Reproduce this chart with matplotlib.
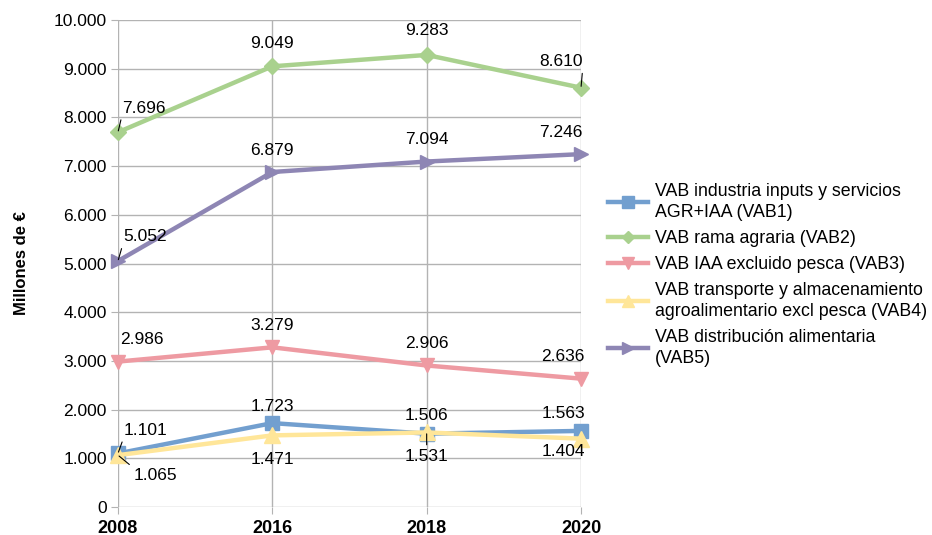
import matplotlib
matplotlib.use("Agg")
import matplotlib.pyplot as plt

plt.rcParams['font.family'] = ['Liberation Sans', 'DejaVu Sans']

years = ["2008", "2016", "2018", "2020"]
labels = [
    "VAB industria inputs y servicios\nAGR+IAA (VAB1)",
    "VAB rama agraria (VAB2)",
    "VAB IAA excluido pesca (VAB3)",
    "VAB transporte y almacenamiento\nagroalimentario excl pesca (VAB4)",
    "VAB distribución alimentaria\n(VAB5)",
]
vab1 = [1101, 1723, 1506, 1563]
vab2 = [7696, 9049, 9283, 8610]
vab3 = [2986, 3279, 2906, 2636]
vab4 = [1065, 1471, 1531, 1404]
vab5 = [5052, 6879, 7094, 7246]

series = [vab1, vab2, vab3, vab4, vab5]
colors = ["#729fcf", "#a9d18e", "#ee9aa2", "#ffe699", "#8e86b4"]
markers = ["s", "D", "v", "^", ">"]
msizes = [10, 8, 10, 11, 10]

# label offsets in pixels (dx, dy) and leader line anchor on the text (None = no line)
offsets = [
    [(28, 23, (0, 0.1)), (0, 17, None), (0, 18, None), (-18, 17, None)],
    [(26, 24, (0, 0.1)), (0, 23, None), (0, 24, None), (-20, 26, (1, 0.1))],
    [(24, 22, None), (0, 22, None), (0, 22, None), (-18, 22, None)],
    [(37, -20, (0, 1)), (0, -24, None), (0, -24, (0.5, 1)), (-18, -13, None)],
    [(27, 24, (0, 0.1)), (0, 22, None), (0, 22, None), (-20, 22, None)],
]

fig = plt.figure(figsize=(9.32, 5.35), dpi=100)
ax = fig.add_axes([0.1266, 0.0523, 0.4968, 0.9103])

x = list(range(len(years)))
for vals, lab, c, m, ms, offs in zip(series, labels, colors, markers, msizes, offsets):
    ax.plot(x, vals, color=c, lw=3.2, marker=m, ms=ms, label=lab, clip_on=False, zorder=3)
    for xi, v, (dx, dy, rel) in zip(x, vals, offs):
        txt = f"{v:,}".replace(",", ".")
        if rel is not None:
            ax.annotate(txt, (xi, v), xytext=(dx, dy), textcoords="offset pixels",
                        ha="center", va="center", fontsize=12.5, zorder=5,
                        arrowprops=dict(arrowstyle="-", color="black", lw=0.8,
                                        relpos=rel, shrinkA=1, shrinkB=1))
        else:
            ax.annotate(txt, (xi, v), xytext=(dx, dy), textcoords="offset pixels",
                        ha="center", va="center", fontsize=12.5, zorder=5)

ax.set_xlim(0, len(years) - 1)
ax.set_ylim(0, 10000)
ax.set_yticks(range(0, 10001, 1000))
ax.set_yticklabels([f"{t:,}".replace(",", ".") for t in range(0, 10001, 1000)], fontsize=12.5)
ax.set_xticks(x)
ax.set_xticklabels(years, fontsize=13, fontweight="bold")
ax.grid(True, color="#b3b3b3", lw=1)
ax.set_axisbelow(True)
for s in ax.spines.values():
    s.set_visible(False)
ax.tick_params(axis="both", color="#b3b3b3", length=5, pad=3)
ax.tick_params(axis="x", pad=4)
ax.set_ylabel("Millones de €", fontsize=12, fontweight="bold", labelpad=18)

leg = fig.legend(loc="upper left", bbox_to_anchor=(0.645, 0.672), frameon=False,
                 fontsize=12.8, handlelength=2.25, handletextpad=0.4, labelspacing=0.5,
                 borderaxespad=0, markerscale=0.8)
for t in leg.get_texts():
    t.set_linespacing(1.34)

fig.savefig("out.png", dpi=100)
